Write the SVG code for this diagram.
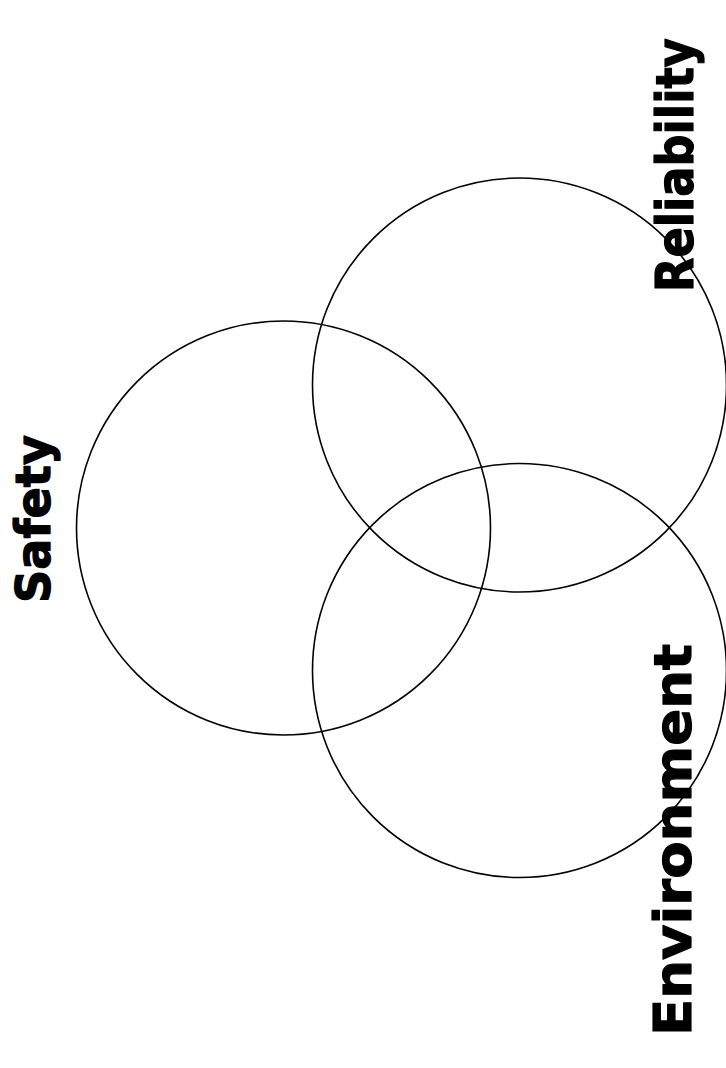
<svg xmlns="http://www.w3.org/2000/svg" width="726" height="1068" viewBox="0 0 726 1068">
<style>
.c{fill:none;stroke:#000;stroke-width:1.6}
.t{font-family:"DejaVu Sans","Verdana",sans-serif;font-weight:bold;fill:#000;stroke:#000;stroke-width:1.2;stroke-linejoin:round}
</style>
<rect width="726" height="1068" fill="#fff"/>
<g id="safety">
<circle class="c" cx="283.5" cy="528" r="207"/>
<text class="t" font-size="48" transform="translate(50,603) rotate(-90)" textLength="168" lengthAdjust="spacingAndGlyphs">Safety</text>
</g>
<g id="reliability">
<circle class="c" cx="519.5" cy="385" r="207"/>
<text class="t" font-size="52" transform="translate(693,292) rotate(-90)" textLength="254" lengthAdjust="spacingAndGlyphs">Reliability</text>
</g>
<g id="environment">
<circle class="c" cx="519.5" cy="670.5" r="207"/>
<text class="t" font-size="52" transform="translate(691,1036) rotate(-90)" textLength="392" lengthAdjust="spacingAndGlyphs">Environment</text>
</g>
<g id="connectors"/>
</svg>
